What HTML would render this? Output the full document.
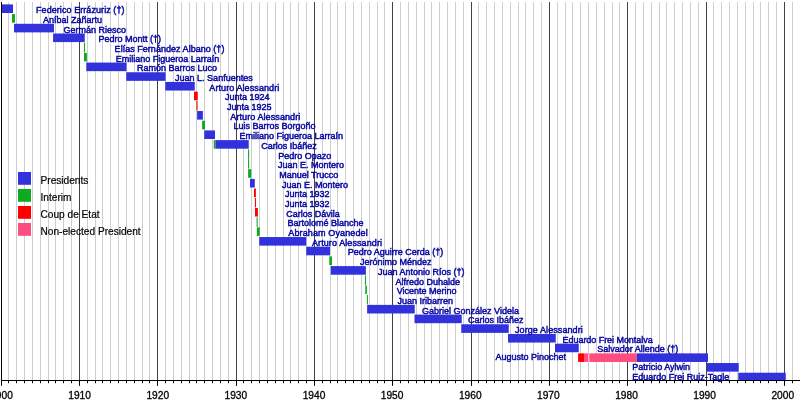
<!DOCTYPE html>
<html><head><meta charset="utf-8"><title>Presidents of Chile timeline</title>
<style>
html,body{margin:0;padding:0;background:#fff;overflow:hidden}
svg{display:block}
text{font-family:"Liberation Sans",sans-serif}
.l{font-size:9px;fill:#0808a0;stroke:#0808a0;stroke-width:0.45px}
.k{font-size:10.15px;fill:#000}
.a{font-size:10.2px;fill:#000;text-anchor:middle}
.k{stroke:#000;stroke-width:0.2px}
.a{stroke:#000;stroke-width:0.3px}
</style></head><body>
<svg width="800" height="400" viewBox="0 0 800 400">
<defs><filter id="sf" x="-2%" y="-2%" width="104%" height="104%"><feGaussianBlur stdDeviation="0.3"/></filter></defs>
<rect width="800" height="400" fill="#fff"/>
<g id="grid">
<rect x="8" y="2" width="1" height="378.5" fill="#cecece"/>
<rect x="16" y="2" width="1" height="378.5" fill="#cecece"/>
<rect x="24" y="2" width="1" height="378.5" fill="#cecece"/>
<rect x="32" y="2" width="1" height="378.5" fill="#cecece"/>
<rect x="40" y="2" width="1" height="378.5" fill="#cecece"/>
<rect x="48" y="2" width="1" height="378.5" fill="#cecece"/>
<rect x="55" y="2" width="1" height="378.5" fill="#cecece"/>
<rect x="63" y="2" width="1" height="378.5" fill="#cecece"/>
<rect x="71" y="2" width="1" height="378.5" fill="#cecece"/>
<rect x="79" y="2" width="1" height="378.5" fill="#424242"/>
<rect x="87" y="2" width="1" height="378.5" fill="#cecece"/>
<rect x="95" y="2" width="1" height="378.5" fill="#cecece"/>
<rect x="102" y="2" width="1" height="378.5" fill="#cecece"/>
<rect x="110" y="2" width="1" height="378.5" fill="#cecece"/>
<rect x="118" y="2" width="1" height="378.5" fill="#cecece"/>
<rect x="126" y="2" width="1" height="378.5" fill="#cecece"/>
<rect x="134" y="2" width="1" height="378.5" fill="#cecece"/>
<rect x="142" y="2" width="1" height="378.5" fill="#cecece"/>
<rect x="149" y="2" width="1" height="378.5" fill="#cecece"/>
<rect x="157" y="2" width="1" height="378.5" fill="#424242"/>
<rect x="165" y="2" width="1" height="378.5" fill="#cecece"/>
<rect x="173" y="2" width="1" height="378.5" fill="#cecece"/>
<rect x="181" y="2" width="1" height="378.5" fill="#cecece"/>
<rect x="189" y="2" width="1" height="378.5" fill="#cecece"/>
<rect x="196" y="2" width="1" height="378.5" fill="#cecece"/>
<rect x="204" y="2" width="1" height="378.5" fill="#cecece"/>
<rect x="212" y="2" width="1" height="378.5" fill="#cecece"/>
<rect x="220" y="2" width="1" height="378.5" fill="#cecece"/>
<rect x="228" y="2" width="1" height="378.5" fill="#cecece"/>
<rect x="236" y="2" width="1" height="378.5" fill="#424242"/>
<rect x="243" y="2" width="1" height="378.5" fill="#cecece"/>
<rect x="251" y="2" width="1" height="378.5" fill="#cecece"/>
<rect x="259" y="2" width="1" height="378.5" fill="#cecece"/>
<rect x="267" y="2" width="1" height="378.5" fill="#cecece"/>
<rect x="275" y="2" width="1" height="378.5" fill="#cecece"/>
<rect x="283" y="2" width="1" height="378.5" fill="#cecece"/>
<rect x="290" y="2" width="1" height="378.5" fill="#cecece"/>
<rect x="298" y="2" width="1" height="378.5" fill="#cecece"/>
<rect x="306" y="2" width="1" height="378.5" fill="#cecece"/>
<rect x="314" y="2" width="1" height="378.5" fill="#424242"/>
<rect x="322" y="2" width="1" height="378.5" fill="#cecece"/>
<rect x="330" y="2" width="1" height="378.5" fill="#cecece"/>
<rect x="337" y="2" width="1" height="378.5" fill="#cecece"/>
<rect x="345" y="2" width="1" height="378.5" fill="#cecece"/>
<rect x="353" y="2" width="1" height="378.5" fill="#cecece"/>
<rect x="361" y="2" width="1" height="378.5" fill="#cecece"/>
<rect x="369" y="2" width="1" height="378.5" fill="#cecece"/>
<rect x="377" y="2" width="1" height="378.5" fill="#cecece"/>
<rect x="384" y="2" width="1" height="378.5" fill="#cecece"/>
<rect x="392" y="2" width="1" height="378.5" fill="#424242"/>
<rect x="400" y="2" width="1" height="378.5" fill="#cecece"/>
<rect x="408" y="2" width="1" height="378.5" fill="#cecece"/>
<rect x="416" y="2" width="1" height="378.5" fill="#cecece"/>
<rect x="424" y="2" width="1" height="378.5" fill="#cecece"/>
<rect x="431" y="2" width="1" height="378.5" fill="#cecece"/>
<rect x="439" y="2" width="1" height="378.5" fill="#cecece"/>
<rect x="447" y="2" width="1" height="378.5" fill="#cecece"/>
<rect x="455" y="2" width="1" height="378.5" fill="#cecece"/>
<rect x="463" y="2" width="1" height="378.5" fill="#cecece"/>
<rect x="471" y="2" width="1" height="378.5" fill="#424242"/>
<rect x="478" y="2" width="1" height="378.5" fill="#cecece"/>
<rect x="486" y="2" width="1" height="378.5" fill="#cecece"/>
<rect x="494" y="2" width="1" height="378.5" fill="#cecece"/>
<rect x="502" y="2" width="1" height="378.5" fill="#cecece"/>
<rect x="510" y="2" width="1" height="378.5" fill="#cecece"/>
<rect x="518" y="2" width="1" height="378.5" fill="#cecece"/>
<rect x="525" y="2" width="1" height="378.5" fill="#cecece"/>
<rect x="533" y="2" width="1" height="378.5" fill="#cecece"/>
<rect x="541" y="2" width="1" height="378.5" fill="#cecece"/>
<rect x="549" y="2" width="1" height="378.5" fill="#424242"/>
<rect x="557" y="2" width="1" height="378.5" fill="#cecece"/>
<rect x="565" y="2" width="1" height="378.5" fill="#cecece"/>
<rect x="572" y="2" width="1" height="378.5" fill="#cecece"/>
<rect x="580" y="2" width="1" height="378.5" fill="#cecece"/>
<rect x="588" y="2" width="1" height="378.5" fill="#cecece"/>
<rect x="596" y="2" width="1" height="378.5" fill="#cecece"/>
<rect x="604" y="2" width="1" height="378.5" fill="#cecece"/>
<rect x="612" y="2" width="1" height="378.5" fill="#cecece"/>
<rect x="619" y="2" width="1" height="378.5" fill="#cecece"/>
<rect x="627" y="2" width="1" height="378.5" fill="#424242"/>
<rect x="635" y="2" width="1" height="378.5" fill="#cecece"/>
<rect x="643" y="2" width="1" height="378.5" fill="#cecece"/>
<rect x="651" y="2" width="1" height="378.5" fill="#cecece"/>
<rect x="659" y="2" width="1" height="378.5" fill="#cecece"/>
<rect x="666" y="2" width="1" height="378.5" fill="#cecece"/>
<rect x="674" y="2" width="1" height="378.5" fill="#cecece"/>
<rect x="682" y="2" width="1" height="378.5" fill="#cecece"/>
<rect x="690" y="2" width="1" height="378.5" fill="#cecece"/>
<rect x="698" y="2" width="1" height="378.5" fill="#cecece"/>
<rect x="706" y="2" width="1" height="378.5" fill="#424242"/>
<rect x="713" y="2" width="1" height="378.5" fill="#cecece"/>
<rect x="721" y="2" width="1" height="378.5" fill="#cecece"/>
<rect x="729" y="2" width="1" height="378.5" fill="#cecece"/>
<rect x="737" y="2" width="1" height="378.5" fill="#cecece"/>
<rect x="745" y="2" width="1" height="378.5" fill="#cecece"/>
<rect x="753" y="2" width="1" height="378.5" fill="#cecece"/>
<rect x="760" y="2" width="1" height="378.5" fill="#cecece"/>
<rect x="768" y="2" width="1" height="378.5" fill="#cecece"/>
<rect x="776" y="2" width="1" height="378.5" fill="#cecece"/>
<rect x="784" y="2" width="1" height="378.5" fill="#424242"/>
<rect x="792" y="2" width="1" height="378.5" fill="#cecece"/>
<rect x="800" y="2" width="1" height="378.5" fill="#cecece"/>
</g>
<g filter="url(#sf)">
<g id="bars">
<rect x="2.00" y="4.40" width="11.00" height="8.60" fill="#3333dd"/>
<rect x="12.00" y="14.09" width="3.00" height="8.60" fill="#11aa22"/>
<rect x="14.00" y="23.79" width="40.00" height="8.60" fill="#3333dd"/>
<rect x="53.10" y="33.48" width="31.65" height="8.60" fill="#3333dd"/>
<rect x="83.95" y="42.82" width="1.10" height="9.50" fill="#11aa22"/>
<rect x="84.00" y="52.86" width="2.90" height="8.60" fill="#11aa22"/>
<rect x="86.25" y="62.56" width="40.25" height="8.60" fill="#3333dd"/>
<rect x="126.25" y="72.25" width="39.35" height="8.60" fill="#3333dd"/>
<rect x="165.25" y="81.94" width="29.50" height="8.60" fill="#3333dd"/>
<rect x="194.00" y="91.64" width="3.75" height="8.60" fill="#ff0000"/>
<rect x="196.45" y="100.98" width="1.10" height="9.50" fill="#ff0000"/>
<rect x="197.10" y="111.02" width="5.80" height="8.60" fill="#3333dd"/>
<rect x="202.10" y="120.72" width="2.90" height="8.60" fill="#11aa22"/>
<rect x="204.25" y="130.41" width="10.75" height="8.60" fill="#3333dd"/>
<rect x="213.75" y="140.10" width="1.75" height="8.60" fill="#11aa22"/>
<rect x="215.50" y="140.10" width="33.25" height="8.60" fill="#3333dd"/>
<rect x="248.05" y="149.44" width="1.10" height="9.50" fill="#11aa22"/>
<rect x="248.05" y="159.14" width="1.10" height="9.50" fill="#11aa22"/>
<rect x="248.10" y="169.18" width="3.15" height="8.60" fill="#11aa22"/>
<rect x="250.00" y="178.87" width="4.80" height="8.60" fill="#3333dd"/>
<rect x="254.00" y="188.57" width="1.90" height="8.60" fill="#ff0000"/>
<rect x="254.95" y="197.91" width="1.10" height="9.50" fill="#ff0000"/>
<rect x="255.00" y="207.95" width="2.90" height="8.60" fill="#ff0000"/>
<rect x="256.62" y="217.30" width="1.10" height="9.50" fill="#11aa22"/>
<rect x="256.90" y="227.34" width="2.85" height="8.60" fill="#11aa22"/>
<rect x="259.25" y="237.03" width="47.00" height="8.60" fill="#3333dd"/>
<rect x="306.25" y="246.72" width="23.75" height="8.60" fill="#3333dd"/>
<rect x="329.25" y="256.42" width="2.75" height="8.60" fill="#11aa22"/>
<rect x="330.75" y="266.11" width="35.15" height="8.60" fill="#3333dd"/>
<rect x="364.95" y="275.45" width="1.10" height="9.50" fill="#11aa22"/>
<rect x="365.25" y="285.50" width="1.65" height="8.60" fill="#11aa22"/>
<rect x="366.85" y="294.84" width="1.10" height="9.50" fill="#11aa22"/>
<rect x="367.10" y="304.88" width="47.65" height="8.60" fill="#3333dd"/>
<rect x="414.50" y="314.58" width="47.25" height="8.60" fill="#3333dd"/>
<rect x="461.25" y="324.27" width="47.50" height="8.60" fill="#3333dd"/>
<rect x="508.00" y="333.96" width="47.75" height="8.60" fill="#3333dd"/>
<rect x="555.00" y="343.65" width="23.75" height="8.60" fill="#3333dd"/>
<rect x="578.10" y="353.35" width="5.90" height="8.60" fill="#ff0000"/>
<rect x="584.00" y="353.35" width="4.20" height="8.60" fill="#ff4d80"/>
<rect x="588.20" y="353.00" width="1.10" height="9.50" fill="#ffb4c8"/>
<rect x="589.30" y="353.35" width="47.60" height="8.60" fill="#ff4d80"/>
<rect x="636.90" y="353.35" width="71.10" height="8.60" fill="#3333dd"/>
<rect x="706.75" y="363.04" width="32.00" height="8.60" fill="#3333dd"/>
<rect x="738.25" y="372.73" width="47.50" height="7.67" fill="#3333dd"/>
</g>
<g id="axis">
<rect x="1" y="2" width="1" height="379" fill="#000"/>
<rect x="1" y="380" width="799" height="1" fill="#000"/>
<rect x="1" y="380" width="1" height="5.8" fill="#000"/>
<text class="a" x="1.50" y="398.8">1900</text>
<rect x="8" y="380" width="1" height="3.2" fill="#000"/>
<rect x="16" y="380" width="1" height="3.2" fill="#000"/>
<rect x="24" y="380" width="1" height="3.2" fill="#000"/>
<rect x="32" y="380" width="1" height="3.2" fill="#000"/>
<rect x="40" y="380" width="1" height="3.2" fill="#000"/>
<rect x="48" y="380" width="1" height="3.2" fill="#000"/>
<rect x="55" y="380" width="1" height="3.2" fill="#000"/>
<rect x="63" y="380" width="1" height="3.2" fill="#000"/>
<rect x="71" y="380" width="1" height="3.2" fill="#000"/>
<rect x="79" y="380" width="1" height="5.8" fill="#000"/>
<text class="a" x="79.62" y="398.8">1910</text>
<rect x="87" y="380" width="1" height="3.2" fill="#000"/>
<rect x="95" y="380" width="1" height="3.2" fill="#000"/>
<rect x="102" y="380" width="1" height="3.2" fill="#000"/>
<rect x="110" y="380" width="1" height="3.2" fill="#000"/>
<rect x="118" y="380" width="1" height="3.2" fill="#000"/>
<rect x="126" y="380" width="1" height="3.2" fill="#000"/>
<rect x="134" y="380" width="1" height="3.2" fill="#000"/>
<rect x="142" y="380" width="1" height="3.2" fill="#000"/>
<rect x="149" y="380" width="1" height="3.2" fill="#000"/>
<rect x="157" y="380" width="1" height="5.8" fill="#000"/>
<text class="a" x="157.75" y="398.8">1920</text>
<rect x="165" y="380" width="1" height="3.2" fill="#000"/>
<rect x="173" y="380" width="1" height="3.2" fill="#000"/>
<rect x="181" y="380" width="1" height="3.2" fill="#000"/>
<rect x="189" y="380" width="1" height="3.2" fill="#000"/>
<rect x="196" y="380" width="1" height="3.2" fill="#000"/>
<rect x="204" y="380" width="1" height="3.2" fill="#000"/>
<rect x="212" y="380" width="1" height="3.2" fill="#000"/>
<rect x="220" y="380" width="1" height="3.2" fill="#000"/>
<rect x="228" y="380" width="1" height="3.2" fill="#000"/>
<rect x="236" y="380" width="1" height="5.8" fill="#000"/>
<text class="a" x="235.88" y="398.8">1930</text>
<rect x="243" y="380" width="1" height="3.2" fill="#000"/>
<rect x="251" y="380" width="1" height="3.2" fill="#000"/>
<rect x="259" y="380" width="1" height="3.2" fill="#000"/>
<rect x="267" y="380" width="1" height="3.2" fill="#000"/>
<rect x="275" y="380" width="1" height="3.2" fill="#000"/>
<rect x="283" y="380" width="1" height="3.2" fill="#000"/>
<rect x="290" y="380" width="1" height="3.2" fill="#000"/>
<rect x="298" y="380" width="1" height="3.2" fill="#000"/>
<rect x="306" y="380" width="1" height="3.2" fill="#000"/>
<rect x="314" y="380" width="1" height="5.8" fill="#000"/>
<text class="a" x="314.00" y="398.8">1940</text>
<rect x="322" y="380" width="1" height="3.2" fill="#000"/>
<rect x="330" y="380" width="1" height="3.2" fill="#000"/>
<rect x="337" y="380" width="1" height="3.2" fill="#000"/>
<rect x="345" y="380" width="1" height="3.2" fill="#000"/>
<rect x="353" y="380" width="1" height="3.2" fill="#000"/>
<rect x="361" y="380" width="1" height="3.2" fill="#000"/>
<rect x="369" y="380" width="1" height="3.2" fill="#000"/>
<rect x="377" y="380" width="1" height="3.2" fill="#000"/>
<rect x="384" y="380" width="1" height="3.2" fill="#000"/>
<rect x="392" y="380" width="1" height="5.8" fill="#000"/>
<text class="a" x="392.12" y="398.8">1950</text>
<rect x="400" y="380" width="1" height="3.2" fill="#000"/>
<rect x="408" y="380" width="1" height="3.2" fill="#000"/>
<rect x="416" y="380" width="1" height="3.2" fill="#000"/>
<rect x="424" y="380" width="1" height="3.2" fill="#000"/>
<rect x="431" y="380" width="1" height="3.2" fill="#000"/>
<rect x="439" y="380" width="1" height="3.2" fill="#000"/>
<rect x="447" y="380" width="1" height="3.2" fill="#000"/>
<rect x="455" y="380" width="1" height="3.2" fill="#000"/>
<rect x="463" y="380" width="1" height="3.2" fill="#000"/>
<rect x="471" y="380" width="1" height="5.8" fill="#000"/>
<text class="a" x="470.25" y="398.8">1960</text>
<rect x="478" y="380" width="1" height="3.2" fill="#000"/>
<rect x="486" y="380" width="1" height="3.2" fill="#000"/>
<rect x="494" y="380" width="1" height="3.2" fill="#000"/>
<rect x="502" y="380" width="1" height="3.2" fill="#000"/>
<rect x="510" y="380" width="1" height="3.2" fill="#000"/>
<rect x="518" y="380" width="1" height="3.2" fill="#000"/>
<rect x="525" y="380" width="1" height="3.2" fill="#000"/>
<rect x="533" y="380" width="1" height="3.2" fill="#000"/>
<rect x="541" y="380" width="1" height="3.2" fill="#000"/>
<rect x="549" y="380" width="1" height="5.8" fill="#000"/>
<text class="a" x="548.38" y="398.8">1970</text>
<rect x="557" y="380" width="1" height="3.2" fill="#000"/>
<rect x="565" y="380" width="1" height="3.2" fill="#000"/>
<rect x="572" y="380" width="1" height="3.2" fill="#000"/>
<rect x="580" y="380" width="1" height="3.2" fill="#000"/>
<rect x="588" y="380" width="1" height="3.2" fill="#000"/>
<rect x="596" y="380" width="1" height="3.2" fill="#000"/>
<rect x="604" y="380" width="1" height="3.2" fill="#000"/>
<rect x="612" y="380" width="1" height="3.2" fill="#000"/>
<rect x="619" y="380" width="1" height="3.2" fill="#000"/>
<rect x="627" y="380" width="1" height="5.8" fill="#000"/>
<text class="a" x="626.50" y="398.8">1980</text>
<rect x="635" y="380" width="1" height="3.2" fill="#000"/>
<rect x="643" y="380" width="1" height="3.2" fill="#000"/>
<rect x="651" y="380" width="1" height="3.2" fill="#000"/>
<rect x="659" y="380" width="1" height="3.2" fill="#000"/>
<rect x="666" y="380" width="1" height="3.2" fill="#000"/>
<rect x="674" y="380" width="1" height="3.2" fill="#000"/>
<rect x="682" y="380" width="1" height="3.2" fill="#000"/>
<rect x="690" y="380" width="1" height="3.2" fill="#000"/>
<rect x="698" y="380" width="1" height="3.2" fill="#000"/>
<rect x="706" y="380" width="1" height="5.8" fill="#000"/>
<text class="a" x="704.62" y="398.8">1990</text>
<rect x="713" y="380" width="1" height="3.2" fill="#000"/>
<rect x="721" y="380" width="1" height="3.2" fill="#000"/>
<rect x="729" y="380" width="1" height="3.2" fill="#000"/>
<rect x="737" y="380" width="1" height="3.2" fill="#000"/>
<rect x="745" y="380" width="1" height="3.2" fill="#000"/>
<rect x="753" y="380" width="1" height="3.2" fill="#000"/>
<rect x="760" y="380" width="1" height="3.2" fill="#000"/>
<rect x="768" y="380" width="1" height="3.2" fill="#000"/>
<rect x="776" y="380" width="1" height="3.2" fill="#000"/>
<rect x="784" y="380" width="1" height="5.8" fill="#000"/>
<text class="a" x="782.75" y="398.8">2000</text>
<rect x="792" y="380" width="1" height="3.2" fill="#000"/>
<rect x="800" y="380" width="1" height="3.2" fill="#000"/>
</g>
<g id="labels">
<text class="l" x="36.00" y="13.15" style="letter-spacing:0.070px">Federico Errázuriz (†)</text>
<text class="l" x="43.00" y="22.84">Aníbal Zañartu</text>
<text class="l" x="63.50" y="32.54">Germán Riesco</text>
<text class="l" x="98.50" y="42.23">Pedro Montt (†)</text>
<text class="l" x="114.60" y="51.92" style="letter-spacing:0.030px">Elías Fernández Albano (†)</text>
<text class="l" x="115.70" y="61.61">Emiliano Figueroa Larraín</text>
<text class="l" x="136.90" y="71.31">Ramón Barros Luco</text>
<text class="l" x="175.10" y="81.00">Juan L. Sanfuentes</text>
<text class="l" x="209.30" y="90.69" style="letter-spacing:0.090px">Arturo Alessandri</text>
<text class="l" x="225.00" y="100.39">Junta 1924</text>
<text class="l" x="227.00" y="110.08">Junta 1925</text>
<text class="l" x="230.30" y="119.77" style="letter-spacing:0.090px">Arturo Alessandri</text>
<text class="l" x="233.50" y="129.47">Luis Barros Borgoño</text>
<text class="l" x="239.40" y="139.16">Emiliano Figueroa Larraín</text>
<text class="l" x="261.25" y="148.85">Carlos Ibáñez</text>
<text class="l" x="278.25" y="158.54">Pedro Opazo</text>
<text class="l" x="278.00" y="168.24">Juan E. Montero</text>
<text class="l" x="279.25" y="177.93">Manuel Trucco</text>
<text class="l" x="282.00" y="187.62">Juan E. Montero</text>
<text class="l" x="285.00" y="197.32">Junta 1932</text>
<text class="l" x="285.00" y="207.01">Junta 1932</text>
<text class="l" x="286.25" y="216.70">Carlos Dávila</text>
<text class="l" x="287.50" y="226.40">Bartolomé Blanche</text>
<text class="l" x="288.25" y="236.09" style="letter-spacing:0.125px">Abraham Oyanedel</text>
<text class="l" x="312.00" y="245.78" style="letter-spacing:0.090px">Arturo Alessandri</text>
<text class="l" x="347.75" y="255.47">Pedro Aguirre Cerda (†)</text>
<text class="l" x="360.00" y="265.17">Jerónimo Méndez</text>
<text class="l" x="378.00" y="274.86">Juan Antonio Ríos (†)</text>
<text class="l" x="395.50" y="284.55">Alfredo Duhalde</text>
<text class="l" x="396.75" y="294.25">Vicente Merino</text>
<text class="l" x="397.50" y="303.94">Juan Iribarren</text>
<text class="l" x="422.00" y="313.63">Gabriel González Videla</text>
<text class="l" x="468.10" y="323.33">Carlos Ibáñez</text>
<text class="l" x="515.00" y="333.02" style="letter-spacing:0.080px">Jorge Alessandri</text>
<text class="l" x="562.60" y="342.71" style="letter-spacing:-0.050px">Eduardo Frei Montalva</text>
<text class="l" x="597.30" y="352.40">Salvador Allende (†)</text>
<text class="l" x="495.50" y="360.30">Augusto Pinochet</text>
<text class="l" x="632.20" y="370.34">Patricio Aylwin</text>
<text class="l" x="632.20" y="380.03">Eduardo Frei Ruiz-Tagle</text>
</g>
<g id="legend">
<rect x="18" y="172.00" width="13" height="12.8" fill="#3333dd"/>
<text class="k" x="40.5" y="183.60">Presidents</text>
<rect x="18" y="189.00" width="13" height="12.8" fill="#11aa22"/>
<text class="k" x="40.5" y="200.60">Interim</text>
<rect x="18" y="206.00" width="13" height="12.8" fill="#ff0000"/>
<text class="k" x="40.5" y="217.60">Coup de Etat</text>
<rect x="18" y="223.00" width="13" height="12.8" fill="#ff4d80"/>
<text class="k" x="40.5" y="234.60">Non-elected President</text>
</g>
</g>
</svg>
</body></html>
